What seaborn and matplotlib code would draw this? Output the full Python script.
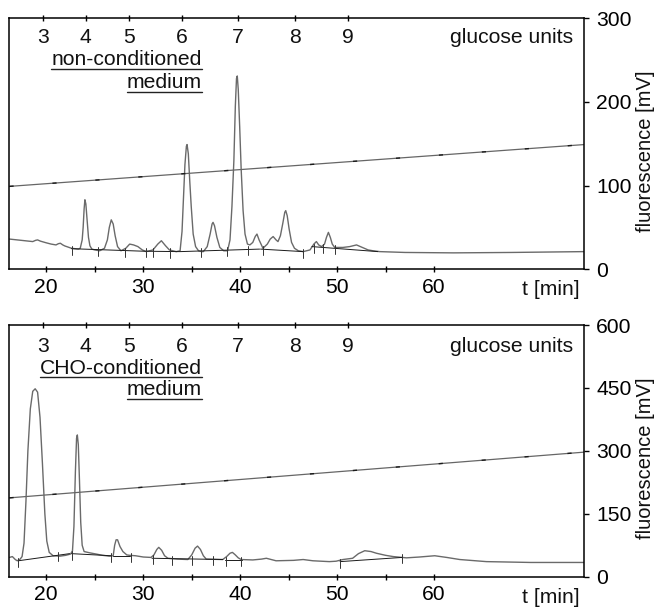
import numpy as np
import pandas as pd
import seaborn as sns
import matplotlib.pyplot as plt
from matplotlib.lines import Line2D

sns.set_theme(style="white")
plt.rcParams['font.family'] = ['Liberation Sans', 'DejaVu Sans']

# ---- data -------------------------------------------------------------
x_lim = (16.2, 75.5)
x_ticks = [20, 25, 30, 35, 40, 45, 50, 55, 60]
x_tick_labels = ['20', '', '30', '', '40', '', '50', '', '60']

# glucose-unit ladder positions (min)
gu_labels = ['3', '4', '5', '6', '7', '8', '9']
gu_times = [19.65, 24.06, 28.5, 34.0, 39.8, 45.7, 51.1]

# non-conditioned medium trace
nc_t = [16.2, 17.0, 17.8, 18.6, 18.9, 19.1, 19.4, 20.0, 20.5, 21.0, 21.25, 21.45,
        21.7, 21.9, 22.6, 23.3, 23.5, 23.7, 23.8, 23.9, 23.98, 24.08, 24.2, 24.35,
        24.5, 24.7, 25.0, 25.5, 26.0, 26.3, 26.5, 26.7, 26.9, 27.1, 27.35, 27.7,
        28.2, 28.6, 29.0, 29.45, 29.9, 30.3, 31.0, 31.5, 31.87, 32.3, 32.7, 33.4,
        33.8, 34.0, 34.15, 34.3, 34.45, 34.52, 34.65, 34.8, 34.95, 35.15, 35.4, 35.7,
        36.0, 36.2, 36.6, 36.9, 37.1, 37.2, 37.35, 37.6, 37.9, 38.3, 38.7, 38.95,
        39.15, 39.35, 39.5, 39.62, 39.7, 39.8, 39.95, 40.1, 40.3, 40.5, 40.75, 41.0,
        41.3, 41.55, 41.73, 41.95, 42.35, 42.8, 43.1, 43.4, 43.7, 43.9, 44.15, 44.4,
        44.6, 44.7, 44.85, 45.05, 45.3, 45.6, 46.0, 46.5, 47.2, 47.6, 47.86, 48.1,
        48.4, 48.7, 48.9, 49.1, 49.3, 49.5, 49.75, 50.6, 51.3, 52.0, 52.6, 53.2,
        53.7, 54.4, 57.0, 62.0, 68.0, 75.5]
nc_mv = [36, 35, 34, 33, 34.5, 35, 33.5, 31.5, 30, 29, 30.5, 31,
         29, 27.8, 25, 24, 25, 35, 50, 72, 83, 78, 60, 38,
         28, 24, 23, 22, 25, 35, 50, 59, 54, 40, 27, 22,
         25, 30, 29, 27, 23, 21, 23, 30, 34, 28, 23, 21,
         22, 45, 85, 125, 147, 149, 138, 105, 75, 42, 27, 22,
         21, 21, 27, 42, 54, 56, 52, 38, 26, 22, 22, 35,
         75, 130, 195, 228, 231, 215, 170, 120, 70, 42, 30, 29,
         32, 39, 42, 35, 25, 30, 36, 39, 35, 33, 40, 55,
         68, 70, 64, 48, 32, 25, 22, 21, 23, 30, 33, 29,
         27, 30, 38, 44, 38, 30, 26, 26, 27, 29, 26, 23,
         22, 21, 20, 19.5, 20, 21]
nc_base = [([22.6, 30.0, 33.8, 42.0], [24.5, 21.5, 21, 24]),
           ([42.1, 46.5], [24, 21]),
           ([47.4, 54.2], [27, 21])]
nc_marks = [22.6, 25.3, 28.1, 30.3, 31.0, 32.8, 36.0, 38.6, 40.8, 42.4, 46.5,
            47.6, 48.5, 49.8]
nc_gradient = ([16.2, 75.5], [99, 149])

# CHO-conditioned medium trace
cho_t = [16.2, 16.5, 16.8, 17.0, 17.3, 17.5, 17.7, 17.9, 18.1, 18.35, 18.6, 18.85,
         19.1, 19.35, 19.6, 19.85, 20.05, 20.3, 20.7, 21.4, 22.0, 22.5, 22.7, 22.85,
         23.0, 23.12, 23.2, 23.3, 23.42, 23.55, 23.7, 23.9, 24.47, 25.16, 25.8, 26.5,
         26.9, 27.05, 27.2, 27.35, 27.6, 27.9, 28.3, 28.6, 29.2, 30.0, 30.8, 31.1,
         31.4, 31.6, 31.9, 32.2, 32.55, 33.5, 34.6, 35.0, 35.35, 35.6, 35.9, 36.2,
         36.5, 38.2, 38.6, 38.95, 39.2, 39.5, 39.8, 40.1, 41.3, 42.2, 42.7, 43.2,
         43.7, 45.5, 46.5, 47.5, 49.2, 49.9, 50.6, 51.6, 52.2, 52.85, 53.5, 54.05,
         55.0, 55.8, 57.15, 58.5, 60.07, 61.3, 62.65, 65.4, 70.0, 75.5]
cho_mv = [46, 48, 41, 38, 42, 48, 80, 180, 300, 400, 442, 448,
          440, 380, 270, 150, 85, 58, 50, 49, 51, 54, 62, 120,
          250, 330, 338, 315, 230, 130, 75, 60, 57, 54, 51, 49,
          50, 75, 88, 88, 72, 60, 52, 51, 50, 47, 46, 52,
          65, 70, 63, 50, 44, 42, 41, 52, 68, 73, 65, 50,
          42, 41, 48, 56, 58, 52, 45, 41, 40, 42, 44, 41,
          38, 39, 41, 38, 36, 37, 41, 44, 55, 62, 60, 56,
          51, 48, 45, 47, 50, 46, 41, 36, 34, 34]
cho_base = [([17.1, 22.4], [38, 55]),
            ([22.6, 26.7], [55, 50]),
            ([26.9, 28.6], [49, 49]),
            ([30.9, 38.2], [44, 41]),
            ([38.4, 40.2], [41, 41]),
            ([50.3, 56.7], [36, 46])]
cho_marks = [17.1, 21.2, 22.6, 26.7, 28.7, 31.0, 33.0, 35.0, 37.2, 38.5, 40.1,
             50.3, 56.7]
cho_gradient = ([16.2, 75.5], [188, 297])

panels = [
    dict(t=nc_t, mv=nc_mv, base=nc_base, marks=nc_marks, grad=nc_gradient,
         ylim=(0, 300), yticks=[0, 100, 200, 300],
         title=['non-conditioned', 'medium'], title_y=[0.834, 0.743],
         gu_y=0.9215),
    dict(t=cho_t, mv=cho_mv, base=cho_base, marks=cho_marks, grad=cho_gradient,
         ylim=(0, 600), yticks=[0, 150, 300, 450, 600],
         title=['CHO-conditioned', 'medium'], title_y=[0.828, 0.742],
         gu_y=0.914),
]

# ---- figure -----------------------------------------------------------
fig = plt.figure(figsize=(6.58, 6.09), dpi=100)
rects = [[0.0144, 0.558, 0.8736, 0.412], [0.0144, 0.053, 0.8736, 0.4133]]
FS = 15.2
trace_col = '#6a6a6a'
dark = '#1a1a1a'

underline_texts = []
for rect, p in zip(rects, panels):
    ax = fig.add_axes(rect)
    df = pd.DataFrame({'t': p['t'], 'mV': p['mv']})
    sns.lineplot(data=df, x='t', y='mV', ax=ax, color=trace_col, lw=1.0,
                 estimator=None, sort=False)
    # integration baselines
    for bt, bv in p['base']:
        ax.plot(bt, bv, color=dark, lw=0.7)
    # integration marks
    span = (p['ylim'][1] - p['ylim'][0]) * 0.012
    for m in p['marks']:
        yv = np.interp(m, [b for seg in p['base'] for b in seg[0]],
                       [v for seg in p['base'] for v in seg[1]])
        ax.plot([m, m], [yv - 2 * span, yv + span], color='#333333', lw=0.7)
    # gradient line
    gt, gv = p['grad']
    ax.plot(gt, gv, color='#666666', lw=0.9)
    ax.plot(gt, gv, color=dark, lw=1.0, dashes=(3, 28))

    ax.set_xlim(*x_lim)
    ax.set_ylim(*p['ylim'])
    ax.set_xlabel('')
    ax.set_ylabel('')
    ax.set_xticks(x_ticks)
    ax.set_xticklabels(x_tick_labels)
    ax.yaxis.tick_right()
    ax.set_yticks(p['yticks'])
    ax.set_yticklabels([str(v) for v in p['yticks']])
    ax.tick_params(axis='x', direction='inout', length=4.5, width=1.0,
                   colors='black', labelsize=FS, pad=4, bottom=True)
    ax.tick_params(axis='y', direction='out', length=3.6, width=1.0,
                   colors='black', labelsize=FS, pad=5, right=True, left=False)
    for s in ax.spines.values():
        s.set_color('black')
        s.set_linewidth(1.1)

    # glucose unit ladder on the top edge
    axt = ax.twiny()
    axt.set_xlim(*x_lim)
    axt.set_xticks(gu_times)
    axt.set_xticklabels([])
    axt.tick_params(axis='x', direction='inout', length=4.5, width=1.0,
                    colors='black', top=True)
    axt.grid(False)
    for s in axt.spines.values():
        s.set_visible(False)
    for lab, gt_ in zip(gu_labels, gu_times):
        ax.text(gt_, p['gu_y'], lab, transform=ax.get_xaxis_transform(),
                ha='center', va='center', fontsize=FS, color='#111111')
    ax.text(0.981, p['gu_y'], 'glucose units', transform=ax.transAxes,
            ha='right', va='center', fontsize=FS, color='#111111')

    for line, yy in zip(p['title'], p['title_y']):
        tx = ax.text(0.3344, yy, line, transform=ax.transAxes, ha='right',
                     va='center', fontsize=FS, color='#111111')
        underline_texts.append(tx)

    ax.text(0.9925, -0.082, 't [min]', transform=ax.transAxes, ha='right',
            va='center', fontsize=FS, color='#111111')
    ax.text(1.106, 0.47, 'fluorescence [mV]', transform=ax.transAxes,
            rotation=90, ha='center', va='center', fontsize=14.5,
            color='#111111')

# underline the sample names
fig.canvas.draw()
renderer = fig.canvas.get_renderer()
inv = fig.transFigure.inverted()
for tx in underline_texts:
    bb = tx.get_window_extent(renderer)
    yc = (bb.y0 + bb.y1) / 2 - 9
    (x0, y0), (x1, _) = inv.transform([(bb.x0, yc), (bb.x1, yc)])
    fig.add_artist(Line2D([x0, x1], [y0, y0], transform=fig.transFigure,
                          color='#222222', lw=1.0))

fig.savefig('out.png', dpi=100)
